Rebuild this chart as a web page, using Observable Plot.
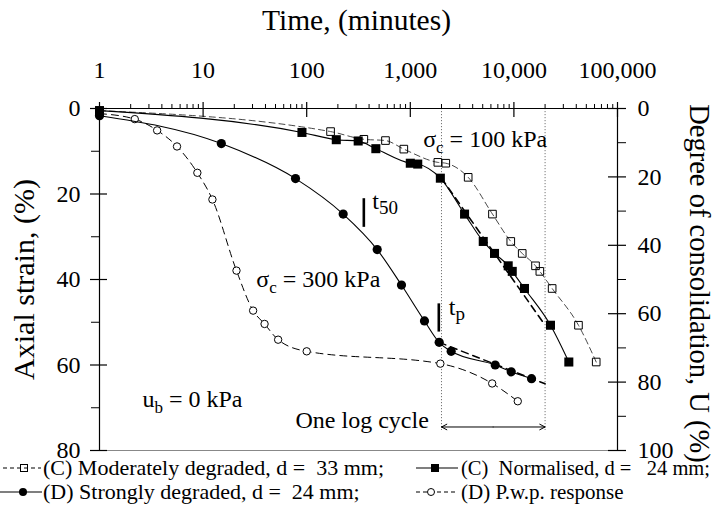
<!DOCTYPE html>
<html><head><meta charset="utf-8">
<script src="https://cdn.jsdelivr.net/npm/d3@7"></script>
<script src="https://cdn.jsdelivr.net/npm/@observablehq/plot@0.6"></script>
<style>
body{margin:0;background:#fff;font-family:"Liberation Serif","Times New Roman",serif;color:#000;}
#wrap{position:relative;width:726px;height:527px;overflow:hidden;}
#wrap > svg{position:absolute;left:0;top:0;}
.lt{position:absolute;line-height:20px;white-space:pre;}
.ls{position:absolute;}
</style></head><body><div id="wrap"></div>
<script>
// ---- data ----
const modT      = [1, 170, 356, 576, 866, 1845, 2200, 3620, 6210, 9330, 12030, 16170, 17800, 23400, 42000, 62300];
const modStrain = [0.5, 5.4, 7.2, 7.5, 9.5, 12.6, 12.8, 16.1, 24.7, 31.1, 33.9, 36.8, 38.1, 42.1, 50.7, 59.3];
const normT      = [1, 90, 193, 314, 465, 1000, 1180, 1950, 3340, 5060, 6500, 8810, 9640, 12650, 22550, 33900];
const normStrain = [0.5, 5.6, 7.3, 7.6, 9.4, 12.8, 13.0, 16.3, 24.7, 31.1, 33.9, 36.8, 38.1, 42.1, 50.7, 59.3];
const strongT      = [1, 15, 78, 225, 479, 822, 1371, 1900, 2480, 6600, 9420, 14800];
const strongStrain = [1.7, 8.2, 16.4, 24.7, 33.0, 41.3, 49.7, 54.7, 56.8, 60.0, 61.6, 63.2];
const pwpT = [1, 2.19, 3.6, 5.6, 8.8, 12.3, 21, 30.4, 39.2, 53, 100, 1950, 6170, 10900];
const pwpU = [1.5, 3.1, 6.4, 11.1, 18.8, 26.6, 47.4, 59.1, 63.0, 67.6, 71.0, 74.6, 80.4, 85.6];

// construction lines
const tangentNormT = [2000, 20000], tangentNormS = [16.3, 50.7];
const tangentStrongT = [1900, 20000], tangentStrongS = [54.7, 64.4];
const cycleT = [2000, 20000];           // one log cycle limits
const cycleTop = 0, cycleBottom = 75.3, cycleArrowS = 74.5, cycleMidT = 6300;
const markerT = [356, 1884];             // t50, tp bars
const markerS1 = [21.1, 45.7], markerS2 = [27.8, 52.3];

// annotations
const noteLabels = ["σc = 100 kPa", "σc = 300 kPa", "ub = 0 kPa", "One log cycle", "t50", "tp"];
const noteT = [1330, 32.6, 2.6, 78, 429, 2355];
const noteS = [8.95, 41.8, 69.9, 74.8, 23.4, 48.4];

// axes ticks
const timeTicks = [1, 10, 100, 1000, 10000, 100000];
const strainTicks = [0, 20, 40, 60, 80], strainMinor = [10, 30, 50, 70];
const uTicks = [0, 20, 40, 60, 80, 100], uMinor = [10, 30, 50, 70, 90];
const U2S = 0.8; // degree of consolidation (0-100) shares the strain axis (0-80)

const minorTimes = d3.range(0, 5).flatMap(e => d3.range(2, 10).map(m => m * 10 ** e));
const rows = (T, S) => T.map((t, i) => ({t, s: S[i]}));
const mod = rows(modT, modStrain), norm = rows(normT, normStrain), strong = rows(strongT, strongStrain);
const pwp = pwpT.map((t, i) => ({t, s: pwpU[i] * U2S}));
const notes = noteLabels.map((label, i) => ({label, t: noteT[i], s: noteS[i]}));
const markers = markerT.map((t, i) => ({t, s1: markerS1[i], s2: markerS2[i]}));
const FONT = "'Liberation Serif','Times New Roman',serif";
const blank = () => "";

const plot = Plot.plot({
  width: 726, height: 455,
  marginLeft: 99, marginRight: 109, marginTop: 108, marginBottom: 5,
  style: {fontFamily: FONT, fontSize: "24px", background: "transparent", overflow: "visible", color: "black"},
  x: {type: "log", domain: [1, 100000], axis: null},
  y: {domain: [0, 80], reverse: true, axis: null},
  marks: [
    // construction lines
    Plot.ruleX(cycleT, {x: d => d, y1: cycleTop, y2: cycleBottom, stroke: "#777", strokeWidth: 1, strokeDasharray: "1.2,1.8"}),
    Plot.arrow([{a: cycleMidT, b: cycleT[0]}, {a: cycleMidT, b: cycleT[1]}], {x1: "a", x2: "b", y1: cycleArrowS, y2: cycleArrowS, headLength: 9, headAngle: 55, strokeWidth: 1, stroke: "black"}),
    // P.w.p. response
    Plot.line(pwp, {x: "t", y: "s", curve: "monotone-x", stroke: "black", strokeWidth: 1, strokeDasharray: "7,5"}),
    Plot.dot(pwp, {x: "t", y: "s", r: 3.7, stroke: "black", fill: "white", strokeWidth: 1}),
    // moderately degraded
    Plot.line(mod, {x: "t", y: "s", curve: "monotone-x", stroke: "#333", strokeWidth: 0.9, strokeDasharray: "6,4"}),
    Plot.dot(mod, {x: "t", y: "s", symbol: "square", r: 4.3, stroke: "black", fill: "none", strokeWidth: 1}),
    // normalised
    Plot.line(norm, {x: "t", y: "s", curve: "monotone-x", stroke: "black", strokeWidth: 1.1}),
    Plot.line(rows(tangentNormT, tangentNormS), {x: "t", y: "s", stroke: "black", strokeWidth: 1.6, strokeDasharray: "7,5"}),
    Plot.dot(norm, {x: "t", y: "s", symbol: "square", r: 5.1, fill: "black", stroke: "none"}),
    // strongly degraded
    Plot.line(strong, {x: "t", y: "s", curve: "monotone-x", stroke: "black", strokeWidth: 1.1}),
    Plot.line(rows(tangentStrongT, tangentStrongS), {x: "t", y: "s", stroke: "black", strokeWidth: 1.5, strokeDasharray: "7,5"}),
    Plot.dot(strong, {x: "t", y: "s", r: 4.6, fill: "black", stroke: "none"}),
    // t50 / tp bars
    Plot.ruleX(markers, {x: "t", y1: "s1", y2: "s2", strokeWidth: 2.6, stroke: "black"}),
    // annotations
    Plot.text(notes, {x: "t", y: "s", text: "label", textAnchor: "start", lineAnchor: "bottom", fontSize: 24, fill: "black"}),
    // frame
    Plot.ruleY([80], {stroke: "#888", strokeWidth: 1}),
    Plot.ruleY([0], {stroke: "black", strokeWidth: 1.2}),
    Plot.ruleX([1, 100000], {stroke: "black", strokeWidth: 1.2}),
    // top time axis
    Plot.axisX({anchor: "top", ticks: timeTicks, tickSize: 15, dy: 8, strokeWidth: 1.2, tickFormat: blank, label: null}),
    Plot.axisX({anchor: "top", ticks: minorTimes, tickSize: 5, tickFormat: blank, label: null}),
    Plot.axisX({anchor: "top", ticks: timeTicks, tickFormat: d3.format(","), tickSize: 0, tickPadding: 31, fontSize: 24, fill: "black", label: null}),
    // left strain axis
    Plot.axisY({anchor: "left", ticks: strainTicks, tickSize: 17, dx: 8, strokeWidth: 1.2, tickFormat: blank, label: null}),
    Plot.axisY({anchor: "left", ticks: strainMinor, tickSize: 8, tickFormat: blank, label: null}),
    Plot.axisY({anchor: "left", ticks: strainTicks, tickSize: 0, tickPadding: 19, fontSize: 24, fill: "black", label: null}),
    // right degree of consolidation axis
    Plot.axisY({anchor: "right", ticks: uTicks.map(u => u * U2S), tickSize: 18, dx: -10, strokeWidth: 1.2, tickFormat: blank, label: null}),
    Plot.axisY({anchor: "right", ticks: uMinor.map(u => u * U2S), tickSize: 8, tickFormat: blank, label: null}),
    Plot.axisY({anchor: "right", ticks: uTicks.map(u => u * U2S), tickFormat: d => String(Math.round(d / U2S)), tickSize: 0, tickPadding: 20, fontSize: 24, fill: "black", label: null}),
    // axis titles
    Plot.text(["Time, (minutes)"], {frameAnchor: "top", textAnchor: "middle", dy: -79, dx: -2, lineAnchor: "bottom", fontSize: 29.5, fill: "black"}),
    Plot.text(["Axial strain, (%)"], {frameAnchor: "left", textAnchor: "middle", dx: -75, rotate: -90, fontSize: 30, fill: "black"}),
    Plot.text(["Degree of consolidation, U (%)"], {frameAnchor: "right", textAnchor: "middle", dx: 82, dy: 4, rotate: 90, fontSize: 28.5, fill: "black"})
  ]
});

// subscripts
const subs = {
  "σc = 100 kPa": 'σ<tspan font-size="17" dy="6">c</tspan><tspan dy="-6"> = 100 kPa</tspan>',
  "σc = 300 kPa": 'σ<tspan font-size="17" dy="6">c</tspan><tspan dy="-6"> = 300 kPa</tspan>',
  "ub = 0 kPa": 'u<tspan font-size="17" dy="6">b</tspan><tspan dy="-6"> = 0 kPa</tspan>',
  "t50": 't<tspan font-size="19" dy="5">50</tspan>',
  "tp": 't<tspan font-size="19" dy="5">p</tspan>'
};
d3.select(plot).selectAll("text").each(function () {
  const h = subs[this.textContent];
  if (h) this.innerHTML = h;
});
const wrap = document.getElementById("wrap");
wrap.appendChild(plot);

// legend (below the chart)
const legendItems = [
  {sx: 3, w: 38, cx: 21, top: 458, dash: "4,3", sym: "sq-open", text: "(C) Moderately degraded, d =  33 mm;", tx: 43, fs: 22},
  {sx: 416, w: 42, cx: 19, top: 458, dash: null, sym: "sq-fill", text: "(C)  Normalised, d =   24 mm;", tx: 461, fs: 20.5},
  {sx: 0, w: 42, cx: 23, top: 482, dash: null, sym: "dot-fill", text: "(D) Strongly degraded, d =  24 mm;", tx: 43, fs: 22},
  {sx: 416, w: 42, cx: 15, top: 482, dash: "4,3", sym: "dot-open", text: "(D) P.w.p. response", tx: 461, fs: 21}
];
legendItems.forEach(it => {
  const svg = d3.select(wrap).append("svg").attr("class", "ls")
    .style("left", it.sx + "px").style("top", (it.top - 2) + "px").attr("width", it.w).attr("height", 24);
  svg.append("line").attr("x1", 0).attr("x2", it.w).attr("y1", 12).attr("y2", 12)
    .attr("stroke", "black").attr("stroke-width", 1.1).attr("stroke-dasharray", it.dash);
  if (it.sym === "sq-open") svg.append("rect").attr("x", it.cx - 3.5).attr("y", 8.5).attr("width", 7).attr("height", 7).attr("fill", "none").attr("stroke", "black");
  if (it.sym === "sq-fill") svg.append("rect").attr("x", it.cx - 4).attr("y", 8).attr("width", 8).attr("height", 8).attr("fill", "black");
  if (it.sym === "dot-fill") svg.append("circle").attr("cx", it.cx).attr("cy", 12).attr("r", 4).attr("fill", "black");
  if (it.sym === "dot-open") svg.append("circle").attr("cx", it.cx).attr("cy", 12).attr("r", 3.5).attr("fill", "white").attr("stroke", "black");
  d3.select(wrap).append("div").attr("class", "lt").style("left", it.tx + "px").style("top", it.top + "px")
    .style("font-size", it.fs + "px").text(it.text);
});
</script></body></html>
